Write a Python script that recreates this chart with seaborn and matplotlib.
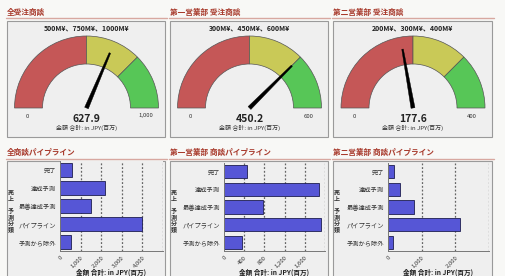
import numpy as np
import matplotlib
matplotlib.use("Agg")
import matplotlib.pyplot as plt
from matplotlib.patches import Wedge, Rectangle, Polygon
import seaborn as sns

# gauge data
gauge_titles = ["全受注商談", "第一営業部 受注商談", "第二営業部 受注商談"]
gauge_values = [627.9, 450.2, 177.6]
gauge_max = [1000, 600, 400]
gauge_break1 = [500, 300, 200]
gauge_break2 = [750, 450, 300]
gauge_headers = ["500M¥、750M¥、1000M¥", "300M¥、450M¥、600M¥", "200M¥、300M¥、400M¥"]
gauge_max_labels = ["1,000", "600", "400"]

# pipeline bar data
bar_titles = ["全商談パイプライン", "第一営業部 商談パイプライン", "第二営業部 商談パイプライン"]
categories = ["完了", "達成予測", "最善達成予測", "パイプライン", "予測から除外"]
pipe_all = [600, 2200, 1500, 4000, 515]
pipe_dept1 = [460, 1875, 775, 1915, 360]
pipe_dept2 = [168, 347, 762, 2150, 140]
bar_ticks = [[0, 1000, 2000, 3000, 4000], [0, 400, 800, 1200, 1600], [0, 1000, 2000]]
bar_tick_labels = [["0", "1,000", "2,000", "3,000", "4,000"],
                   ["0", "400", "800", "1,200", "1,600"],
                   ["0", "1,000", "2,000"]]
bar_xmax = [5000, 2000, 3000]

sns.set_theme(style="white")
plt.rcParams['font.family'] = ['Noto Sans CJK JP', 'DejaVu Sans']

W, H = 505, 276
fig = plt.figure(figsize=(W / 100, H / 100), dpi=100)
fig.patch.set_facecolor("#f8f8f6")

# overlay axes in pixel units (y measured upward)
ov = fig.add_axes([0, 0, 1, 1])
ov.set_xlim(0, W)
ov.set_ylim(0, H)
ov.axis("off")
ov.set_zorder(0)

def Y(py):
    return H - py

panel_x = [(7, 165), (170, 328), (333, 492)]
title_col = "#a83a2c"
line_col = "#d8a8a0"
box_face = "#efefef"
box_edge = "#9a9a9a"

for i in range(3):
    x0, x1 = panel_x[i]
    # top row titles / boxes
    ov.text(x0, Y(12), gauge_titles[i], fontsize=5.5, color=title_col,
            fontweight="bold", va="center", ha="left")
    ov.plot([x0 - 1, x1 + 2], [Y(17.5), Y(17.5)], color=line_col, lw=1)
    ov.add_patch(Rectangle((x0, Y(137)), x1 - x0, 137 - 21, facecolor=box_face,
                           edgecolor=box_edge, lw=0.8, zorder=1))
    # bottom row
    ov.text(x0, Y(152), bar_titles[i], fontsize=5.5, color=title_col,
            fontweight="bold", va="center", ha="left")
    ov.plot([x0 - 1, x1 + 2], [Y(158.5), Y(158.5)], color=line_col, lw=1)
    ov.add_patch(Rectangle((x0, Y(280)), x1 - x0, 280 - 161, facecolor=box_face,
                           edgecolor=box_edge, lw=0.8, zorder=1))

# gauges
R, r = 72, 44
cy = Y(108)
for i in range(3):
    x0, x1 = panel_x[i]
    cx = (x0 + x1) / 2 + 0.5
    vmax = gauge_max[i]
    def ang(v):
        return 180 - v / vmax * 180
    segs = [(0, gauge_break1[i], "#c55757"),
            (gauge_break1[i], gauge_break2[i], "#c9c957"),
            (gauge_break2[i], vmax, "#57c657")]
    for a, b, c in segs:
        ov.add_patch(Wedge((cx, cy), R, ang(b), ang(a), width=R - r,
                           facecolor=c, edgecolor="#555555", lw=0.5, zorder=2))
    th = np.radians(ang(gauge_values[i]))
    d = np.array([np.cos(th), np.sin(th)])
    p = np.array([-d[1], d[0]])
    c0 = np.array([cx, cy])
    L = 0.83 * R
    pts = [c0 + p * 2.0, c0 + d * L + p * 0.8, c0 + d * L - p * 0.8, c0 - p * 2.0]
    ov.add_patch(Polygon(pts, closed=True, facecolor="black", edgecolor="black",
                         lw=0.3, zorder=3))
    ov.text(cx, Y(28), gauge_headers[i], fontsize=5, fontweight="bold",
            ha="center", va="center", color="#222222")
    ov.text(cx - R + 13, Y(116), "0", fontsize=4.3, ha="center", va="center", color="#333333")
    ov.text(cx + R - 13, Y(116), gauge_max_labels[i], fontsize=4.3, ha="center",
            va="center", color="#333333")
    ov.text(cx, Y(118.5), f"{gauge_values[i]:.1f}", fontsize=7.5, fontweight="bold",
            ha="center", va="center", color="#222222")
    ov.text(cx, Y(128), "金額 合計: in JPY(百万)", fontsize=4.3, ha="center",
            va="center", color="#333333")

# bar charts
bar_boxes = [(60, 163, 161, 251), (224, 325, 163, 251), (388, 489, 163, 251)]
bar_data = [pipe_all, pipe_dept1, pipe_dept2]
for i in range(3):
    l, rr, t, b = bar_boxes[i]
    ax = fig.add_axes([l / W, 1 - b / H, (rr - l) / W, (b - t) / H])
    ax.set_zorder(2)
    ax.set_facecolor(box_face)
    sns.barplot(x=bar_data[i], y=categories, orient="h", color="#5656d6",
                saturation=1, edgecolor="#1e1e50", linewidth=0.6, width=0.74, ax=ax)
    for bar in ax.patches:
        bar.set_zorder(3)
    ax.set_xlim(0, bar_xmax[i])
    ax.set_xticks(bar_ticks[i])
    ax.set_xticklabels(bar_tick_labels[i], rotation=45, ha="right",
                       rotation_mode="anchor", fontsize=4.3)
    ax.tick_params(axis="y", labelsize=4.5, length=2, width=0.5, pad=1, colors="#333333")
    ax.tick_params(axis="x", length=0, pad=3, colors="#333333")
    # dashed vertical grid at the tick positions
    for tk in bar_ticks[i][1:] + [bar_xmax[i]]:
        ax.axvline(tk, color="#666666", linewidth=0.9, linestyle=(0, (1.5, 1.5)), zorder=2)
    for s in ["top", "right"]:
        ax.spines[s].set_visible(False)
    for s in ["left", "bottom"]:
        ax.spines[s].set_color("#777777")
        ax.spines[s].set_linewidth(0.7)
        ax.spines[s].set_zorder(4)
    ax.set_ylabel("")
    ax.set_xlabel("")
    x0, x1 = panel_x[i]
    ov.text((l + rr) / 2, Y(272), "金額 合計: in JPY(百万)", fontsize=4.8,
            fontweight="bold", ha="center", va="center", color="#222222")
    ov.text(x0 + 4, Y(211), "売\n上\n\n予\n測\n分\n類", fontsize=4.3, fontweight="bold",
            ha="center", va="center", color="#333333", linespacing=0.85)

fig.savefig("out.png", dpi=100, facecolor=fig.get_facecolor())
